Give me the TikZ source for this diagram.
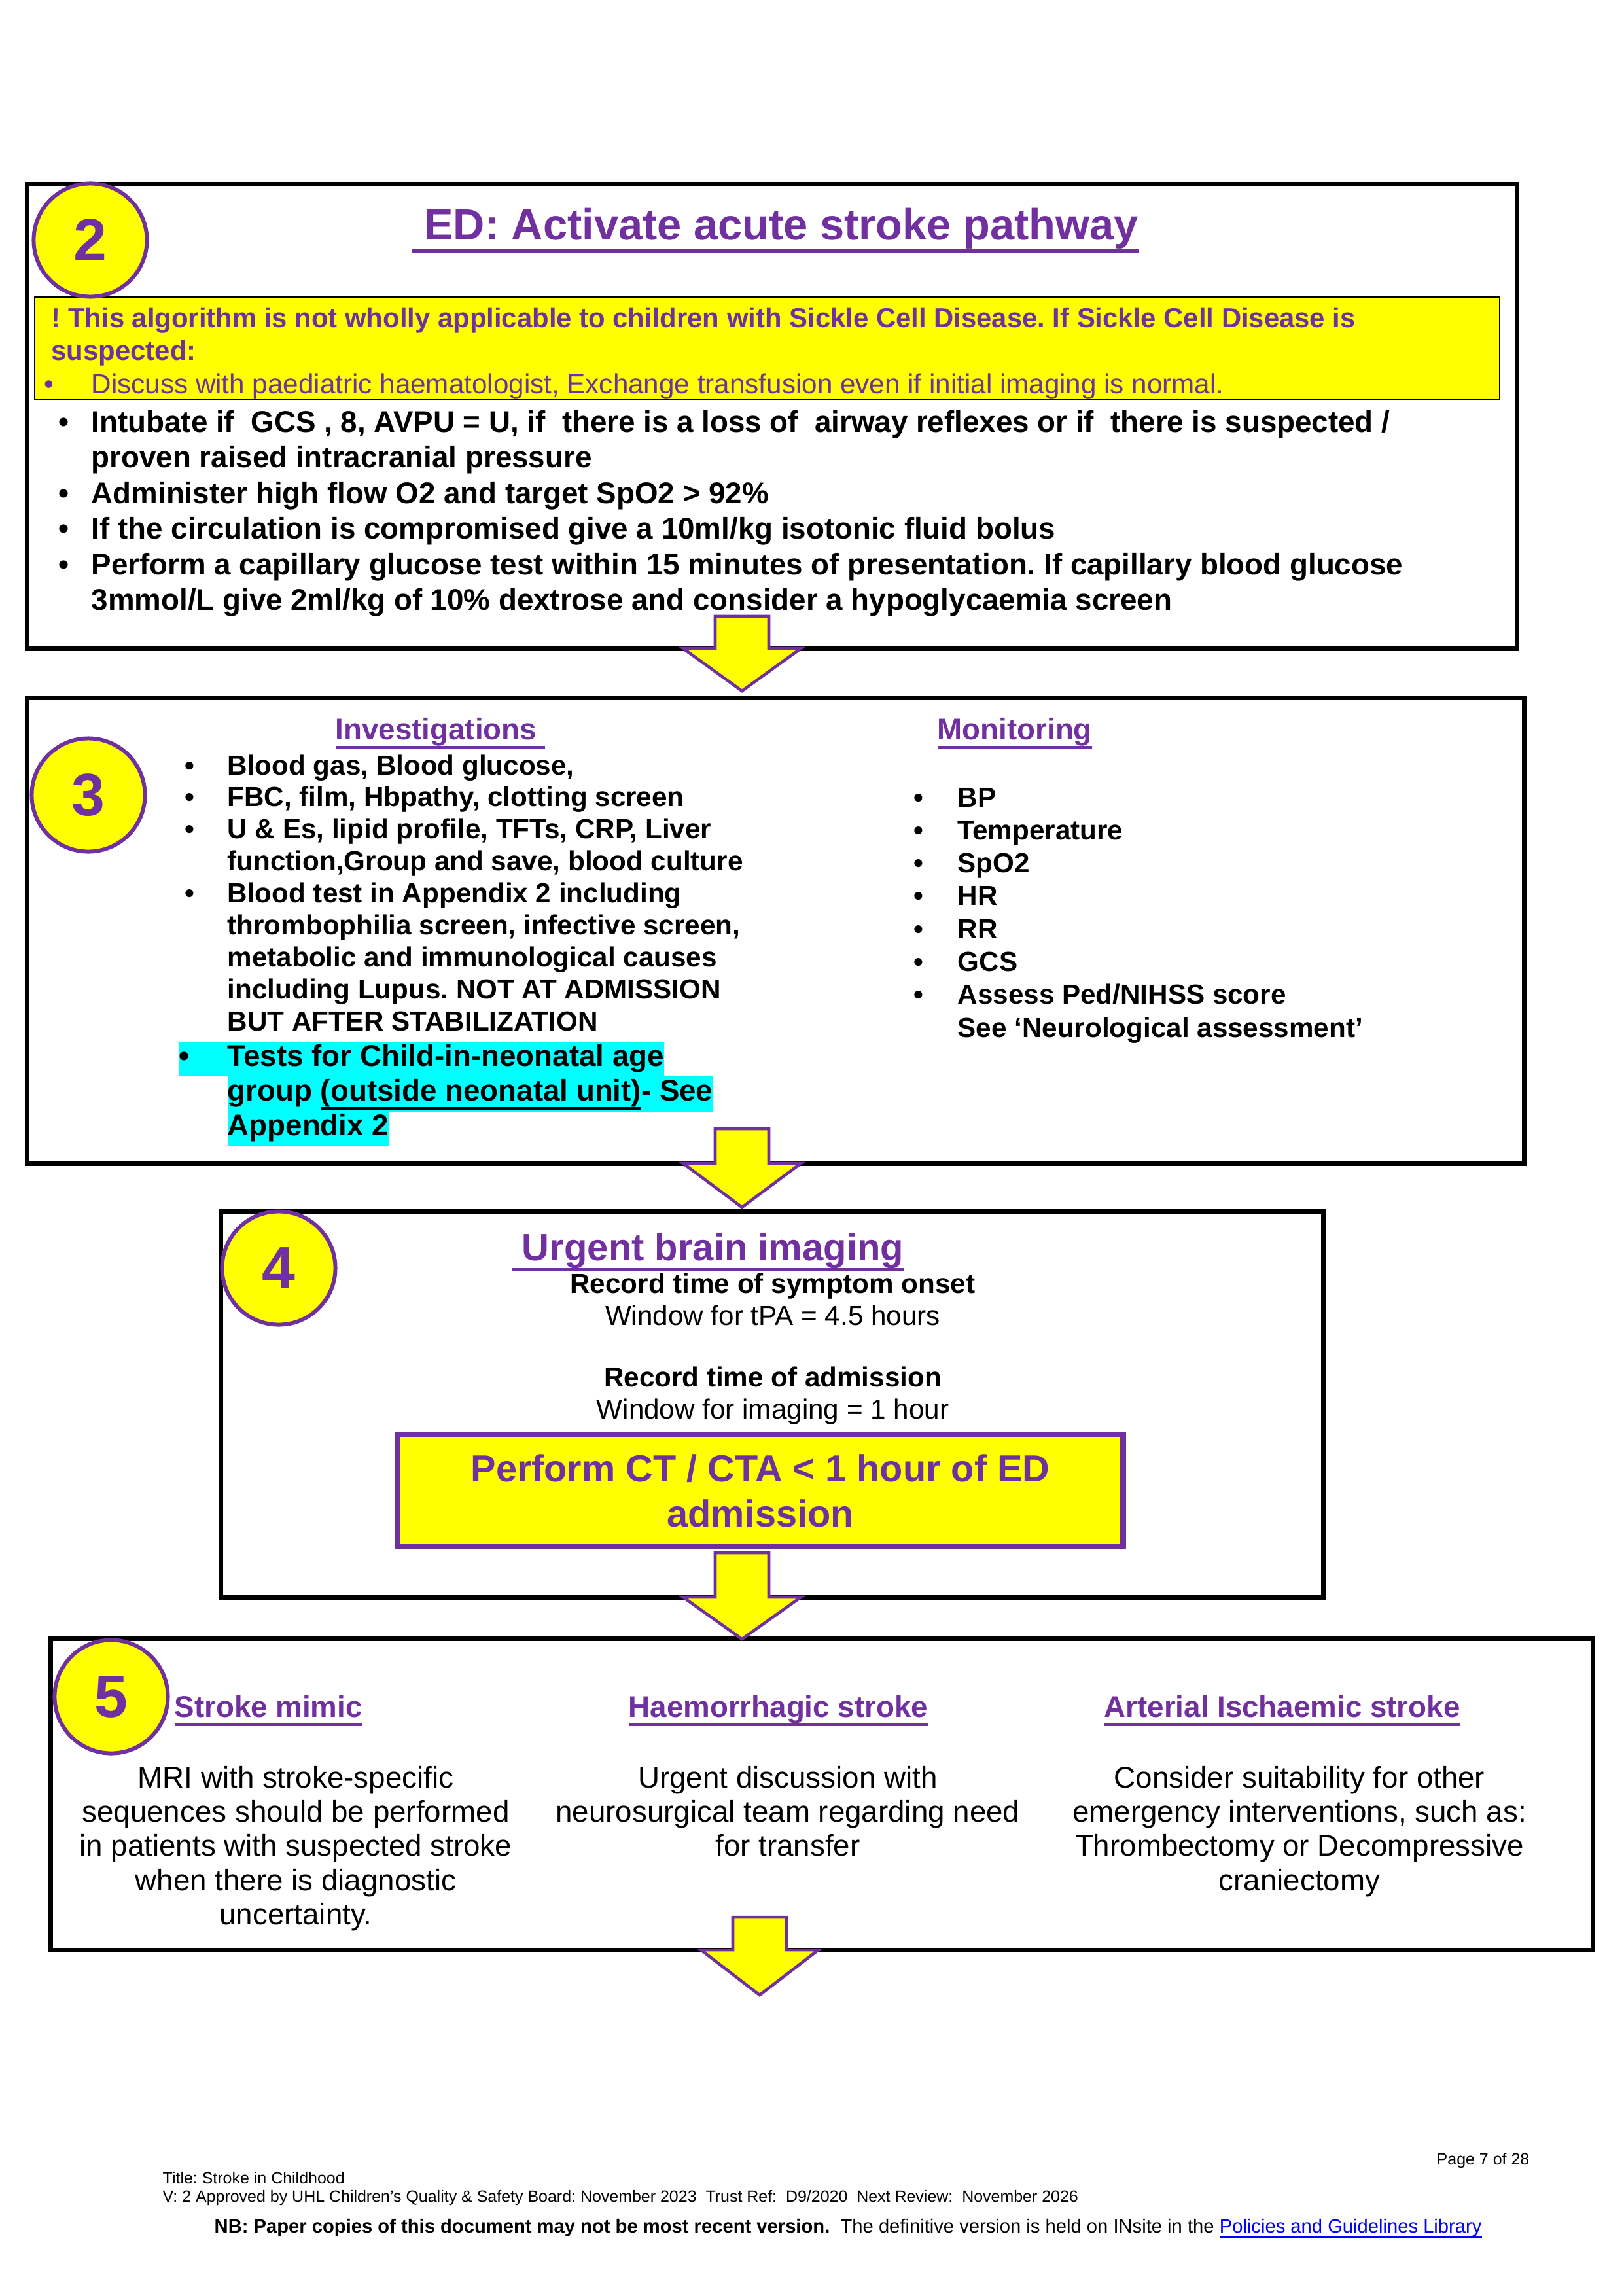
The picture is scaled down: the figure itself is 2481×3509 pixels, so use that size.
\documentclass[tikz,border=0pt]{standalone}
\usepackage{fontspec}
\setmainfont{Liberation Sans}
\setsansfont{Liberation Sans}
\usepackage{xcolor}
\definecolor{colPurple}{HTML}{7030A0}
\definecolor{colYellow}{HTML}{FFFF00}
\definecolor{colCyan}{HTML}{00FFFF}
\definecolor{colLink}{HTML}{0000FF}
\usetikzlibrary{calc}
\frenchspacing
\newcommand{\fsz}[2]{\fontsize{#1}{#2}\selectfont}
\newcommand{\bul}[1]{\makebox[#1][l]{\textbullet}}
\newcommand{\hl}[1]{{\setlength{\fboxsep}{0pt}\colorbox{colCyan}{\strut #1}}}
% underline below descenders: [thickness]{text}
\newcommand{\uln}[2][1.3pt]{\leavevmode\setbox0\hbox{#2}%
  \rlap{\rule[\dimexpr-0.21em-#1\relax]{\wd0}{#1}}\box0}
% block arrow: centre x, shaft top, head base, tip
\newcommand{\flowarrow}[4]{%
  \filldraw[arrowbody] (#1-41,#2) -- (#1+41,#2) -- (#1+41,#3) -- (#1+90,#3)
    -- (#1,#4) -- (#1-90,#3) -- (#1-41,#3) -- cycle;}

\begin{document}
\begin{tikzpicture}[x=0.01cm, y=-0.01cm,
    stepbox/.style={draw=black, line width=2pt, inner sep=0pt, outer sep=0pt},
    stepnum/.style={circle, draw=colPurple, fill=colYellow, line width=1.7pt,
      minimum size=1.73cm, inner sep=0pt, text=colPurple,
      font=\fsz{26}{30}\bfseries},
    heading/.style={anchor=base west, inner sep=0pt, text=colPurple,
      font=\fsz{13}{15}\bfseries},
    listtext/.style={anchor=base west, inner sep=0pt},
    centretext/.style={anchor=base, inner sep=0pt},
    arrowbody/.style={fill=colYellow, draw=colPurple, line width=1.3pt}]
  \useasboundingbox (0,0) rectangle (2481,3509);

  % Step 2
  \node[stepbox, minimum width=22.76cm, minimum height=7.09cm] (box2) at (1180,636.5) {};
  \node[anchor=base west, inner sep=0pt, text=colPurple, font=\fsz{19}{22}\bfseries]
    (title2) at (629,366) {\uln[1.6pt]{\ ED: Activate acute stroke pathway}};
  \node[fill=colYellow, draw=black, line width=0.6pt, inner sep=0pt,
        minimum width=22.37cm, minimum height=1.57cm] (sickle) at (1172.5,532.5) {};
  \node[listtext, text=colPurple, font=\fsz{11.9}{14.3}\bfseries] (sickletext) at (78,500) {%
    \begin{tabular}[t]{@{}l@{}}
      ! This algorithm is not wholly applicable to children with Sickle Cell Disease. If Sickle Cell Disease is\\
      suspected:
    \end{tabular}};
  \node[listtext, text=colPurple, font=\fsz{12}{14.3}] (sicklebul) at (67,601)
    {\bul{0.72cm}Discuss with paediatric haematologist, Exchange transfusion even if initial imaging is normal.};
  \node[listtext, font=\fsz{13}{15.5}\bfseries] (care) at (89,660) {%
    \begin{tabular}[t]{@{}l@{}l@{}}
      \bul{0.5cm} & Intubate if\ \ GCS , 8, AVPU = U, if\ \ there is a loss of\ \ airway reflexes or if\ \ there is suspected /\\
                  & proven raised intracranial pressure\\
      \bul{0.5cm} & Administer high flow O2 and target SpO2 > 92\%\\
      \bul{0.5cm} & If the circulation is compromised give a 10ml/kg isotonic fluid bolus\\
      \bul{0.5cm} & Perform a capillary glucose test within 15 minutes of presentation. If capillary blood glucose\\
                  & 3mmol/L give 2ml/kg of 10\% dextrose and consider a hypoglycaemia screen
    \end{tabular}};

  % Step 3
  \node[stepbox, minimum width=22.87cm, minimum height=7.11cm] (box3) at (1185.5,1422.5) {};
  \node[heading] (invhead) at (512,1130) {\uln{Investigations\ }};
  \node[heading] (monhead) at (1432,1130) {\uln{Monitoring}};
  \node[listtext, font=\fsz{12}{13.9}\bfseries] (invest) at (282,1184) {%
    \begin{tabular}[t]{@{}l@{}l@{}}
      \bul{0.65cm} & Blood gas, Blood glucose,\\
      \bul{0.65cm} & FBC, film, Hbpathy, clotting screen\\
      \bul{0.65cm} & U \& Es, lipid profile, TFTs, CRP, Liver\\
                   & function,Group and save, blood culture\\
      \bul{0.65cm} & Blood test in Appendix 2 including\\
                   & thrombophilia screen, infective screen,\\
                   & metabolic and immunological causes\\
                   & including Lupus. NOT AT ADMISSION\\
                   & BUT AFTER STABILIZATION
    \end{tabular}};
  \node[listtext, font=\fsz{13}{15.2}\bfseries] (neonatal) at (273,1629) {%
    \begin{tabular}[t]{@{}p{0.74cm}@{}l@{}}
      \multicolumn{2}{@{}l@{}}{\hl{\bul{0.74cm}Tests for Child-in-neonatal age}}\\
       & \hl{group \uln{(outside neonatal unit)}- See}\\
       & \hl{Appendix 2}
    \end{tabular}};
  \node[listtext, font=\fsz{12}{14.3}\bfseries] (monitor) at (1396,1233) {%
    \begin{tabular}[t]{@{}l@{}l@{}}
      \bul{0.67cm} & BP\\
      \bul{0.67cm} & Temperature\\
      \bul{0.67cm} & SpO2\\
      \bul{0.67cm} & HR\\
      \bul{0.67cm} & RR\\
      \bul{0.67cm} & GCS\\
      \bul{0.67cm} & Assess Ped/NIHSS score\\
                   & See ‘Neurological assessment’
    \end{tabular}};

  % Step 4
  \node[stepbox, minimum width=16.84cm, minimum height=5.89cm] (box4) at (1180,2146.5) {};
  \node[anchor=base west, inner sep=0pt, text=colPurple, font=\fsz{16.5}{19}\bfseries]
    (title4) at (781,1926) {\uln[1.5pt]{\ Urgent brain imaging}};
  \node[centretext, font=\fsz{12}{14}] (onset) at (1181,1976) {%
    \begin{tabular}[t]{@{}c@{}}
      \textbf{Record time of symptom onset}\\
      Window for tPA = 4.5 hours
    \end{tabular}};
  \node[centretext, font=\fsz{12}{14}] (admit) at (1181,2119) {%
    \begin{tabular}[t]{@{}c@{}}
      \textbf{Record time of admission}\\
      Window for imaging = 1 hour
    \end{tabular}};
  \node[fill=colYellow, draw=colPurple, line width=2.5pt, inner sep=0pt,
        minimum width=11.08cm, minimum height=1.72cm, align=center,
        text=colPurple, font=\fsz{16.4}{19.6}\bfseries] (ctbox) at (1162,2278)
    {Perform CT / CTA < 1 hour of ED\\admission};

  % Step 5
  \node[stepbox, minimum width=23.56cm, minimum height=4.75cm] (box5) at (1256,2742.5) {};
  \node[heading] (mimichead) at (266,2624) {\uln{Stroke mimic}};
  \node[heading] (haemhead) at (960,2624) {\uln{Haemorrhagic stroke}};
  \node[heading] (aishead) at (1687,2624) {\uln{Arterial Ischaemic stroke}};
  \node[centretext, font=\fsz{13}{14.9}] (mimic) at (452,2732) {%
    \begin{tabular}[t]{@{}c@{}}
      MRI with stroke-specific\\
      sequences should be performed\\
      in patients with suspected stroke\\
      when there is diagnostic\\
      uncertainty.
    \end{tabular}};
  \node[centretext, font=\fsz{13}{14.9}] (haem) at (1204,2732) {%
    \begin{tabular}[t]{@{}c@{}}
      Urgent discussion with\\
      neurosurgical team regarding need\\
      for transfer
    \end{tabular}};
  \node[centretext, font=\fsz{13}{14.9}] (ais) at (1986,2732) {%
    \begin{tabular}[t]{@{}c@{}}
      Consider suitability for other\\
      emergency interventions, such as:\\
      Thrombectomy or Decompressive\\
      craniectomy
    \end{tabular}};

  % Step numbers
  \node[stepnum] (num2) at (138,367) {2};
  \node[stepnum] (num3) at (135,1215) {3};
  \node[stepnum] (num4) at (426,1938) {4};
  \node[stepnum] (num5) at (170,2593) {5};

  % Arrows between steps
  \flowarrow{1134}{942}{991}{1056}
  \flowarrow{1134}{1725}{1778}{1845}
  \flowarrow{1134}{2373}{2441}{2505}
  \flowarrow{1161}{2930}{2980}{3049}

  % Footer
  \node[anchor=base east, inner sep=0pt, font=\fsz{7.1}{8.2}] (page) at (2338,3308) {Page 7 of 28};
  \node[listtext, font=\fsz{7.1}{8.2}] (doctitle) at (248,3337) {%
    \begin{tabular}[t]{@{}l@{}}
      Title: Stroke in Childhood\\
      V: 2 Approved by UHL Children’s Quality \& Safety Board: November 2023\ \ Trust Ref:\ \ D9/2020\ \ Next Review:\ \ November 2026
    \end{tabular}};
  \node[listtext, font=\fsz{8.3}{9.5}] (nb) at (327,3412)
    {\textbf{NB: Paper copies of this document may not be most recent version.}\ \ The definitive version is held on INsite in the {\color{colLink}\uln[0.5pt]{Policies and Guidelines Library}}};
\end{tikzpicture}
\end{document}
